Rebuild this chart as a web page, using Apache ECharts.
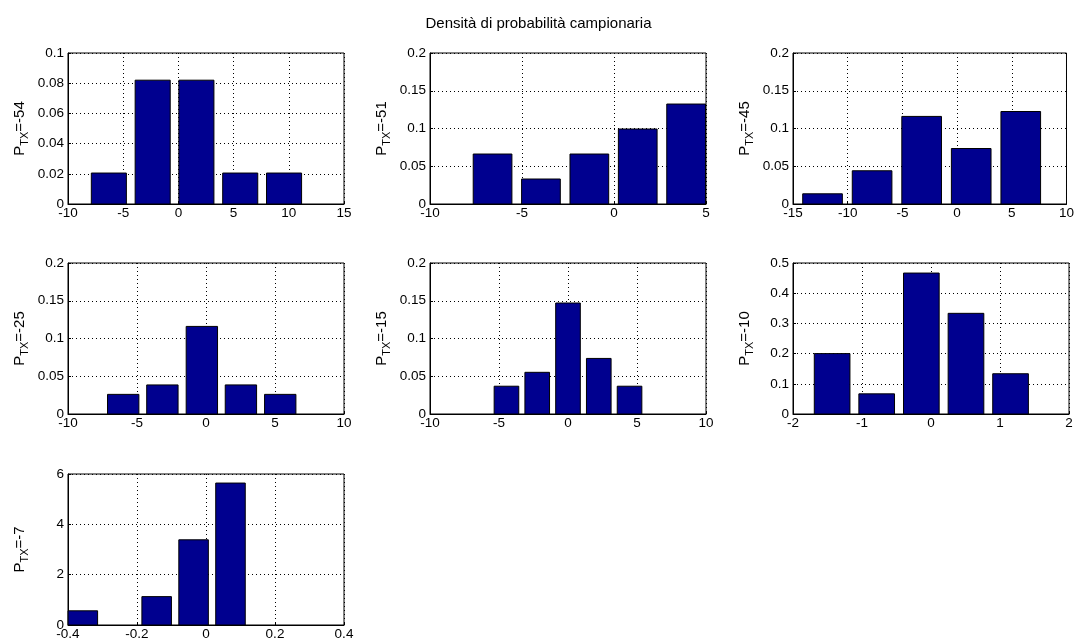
<!DOCTYPE html>
<html lang="it">
<head>
    <meta charset="UTF-8">
    <title>Densità di probabilità campionaria</title>
    <script type="text/javascript" src="https://cdn.jsdelivr.net/npm/echarts@6.0.0/dist/echarts.min.js"></script>
    <style>
        html, body { margin: 0; padding: 0; background: #fff; }
        #myChart { width: 1077px; height: 643px; }
    </style>
</head>
<body>
<div id="myChart"></div>

<script type="text/javascript">
    // etichette dei pannelli (P_TX)
    var ptxLabels = ['-54', '-51', '-45', '-25', '-15', '-10', '-7'];

    // centri dei bin per ogni pannello
    var centers54 = [-6.3, -2.33, 1.63, 5.6, 9.57];
    var centers51 = [-6.6, -3.97, -1.34, 1.29, 3.92];
    var centers45 = [-12.3, -7.77, -3.24, 1.29, 5.82];
    var centers25 = [-6.0, -3.16, -0.3, 2.53, 5.38];
    var centers15 = [-4.46, -2.23, 0, 2.23, 4.46];
    var centers10 = [-1.433, -0.787, -0.14, 0.507, 1.153];
    var centers7 = [-0.357, -0.250, -0.143, -0.036, 0.071];

    // densità campionaria
    var dens54 = [0.0205, 0.082, 0.082, 0.0205, 0.0205];
    var dens51 = [0.0662, 0.0331, 0.0662, 0.0993, 0.1324];
    var dens45 = [0.0135, 0.044, 0.116, 0.0735, 0.1225];
    var dens25 = [0.026, 0.0385, 0.116, 0.0385, 0.026];
    var dens15 = [0.0368, 0.0552, 0.147, 0.0736, 0.0368];
    var dens10 = [0.2, 0.0667, 0.4667, 0.3333, 0.1333];
    var dens7 = [0.564, 0, 1.128, 3.385, 5.64];

    // assi: [min, max, intervallo]
    var xAxes = [[-10, 15, 5], [-10, 5, 5], [-15, 10, 5], [-10, 10, 5], [-10, 10, 5], [-2, 2, 1], [-0.4, 0.4, 0.2]];
    var yAxes = [[0, 0.1, 0.02], [0, 0.2, 0.05], [0, 0.2, 0.05], [0, 0.2, 0.05], [0, 0.2, 0.05], [0, 0.5, 0.1], [0, 6, 2]];

    var allCenters = [centers54, centers51, centers45, centers25, centers15, centers10, centers7];
    var allDens = [dens54, dens51, dens45, dens25, dens15, dens10, dens7];

    var colLeft = [68, 430, 793];
    var rowTop = [53, 263, 474];
    var plotW = 276, plotH = 151;
    var FONT = '"Liberation Sans", Arial, sans-serif';

    var myChart = echarts.init(document.getElementById('myChart'), null, {renderer: 'canvas'});

    var grids = [], xAx = [], yAx = [], series = [];

    for (var i = 0; i < 7; i++) {
        grids.push({
            left: colLeft[i % 3], top: rowTop[Math.floor(i / 3)],
            width: plotW, height: plotH,
            show: true, borderColor: '#000', borderWidth: 1, backgroundColor: '#fff'
        });
        xAx.push({
            type: 'value', gridIndex: i,
            min: xAxes[i][0], max: xAxes[i][1], interval: xAxes[i][2],
            axisLine: {show: true, onZero: false, lineStyle: {color: '#000'}},
            axisTick: {show: true, inside: true, length: 3, lineStyle: {color: '#000'}},
            axisLabel: {color: '#000', fontSize: 13.5, fontFamily: FONT, margin: 2},
            splitLine: {show: true, lineStyle: {color: '#000', type: [1, 3], width: 1}}
        });
        yAx.push({
            type: 'value', gridIndex: i,
            min: yAxes[i][0], max: yAxes[i][1], interval: yAxes[i][2],
            name: '{p|P}{s|TX}{p|=' + ptxLabels[i] + '}',
            nameLocation: 'middle', nameRotate: 90, nameGap: 38,
            nameTextStyle: {
                color: '#000', fontFamily: FONT,
                rich: {
                    p: {fontSize: 15, fontFamily: FONT, color: '#000', verticalAlign: 'top'},
                    s: {fontSize: 11, fontFamily: FONT, color: '#000', verticalAlign: 'top', padding: [7, 0, 0, 0]}
                }
            },
            axisLine: {show: true, onZero: false, lineStyle: {color: '#000'}},
            axisTick: {show: true, inside: true, length: 3, lineStyle: {color: '#000'}},
            axisLabel: {color: '#000', fontSize: 13.5, fontFamily: FONT, margin: 4},
            splitLine: {show: true, lineStyle: {color: '#000', type: [1, 3], width: 1}}
        });

        var c = allCenters[i];
        var binW = 0.8 * (c[1] - c[0]);
        var data = c.map(function (x, k) { return [x, allDens[i][k]]; });

        series.push({
            type: 'custom', xAxisIndex: i, yAxisIndex: i,
            data: data,
            renderItem: (function (w) {
                return function (params, api) {
                    var x = api.value(0), y = api.value(1);
                    if (!y) return;
                    var p0 = api.coord([x - w / 2, y]);
                    var p1 = api.coord([x + w / 2, 0]);
                    var rect = echarts.graphic.clipRectByRect({
                        x: p0[0], y: p0[1], width: p1[0] - p0[0], height: p1[1] - p0[1]
                    }, {
                        x: params.coordSys.x, y: params.coordSys.y,
                        width: params.coordSys.width, height: params.coordSys.height
                    });
                    if (!rect) return;
                    return {
                        type: 'rect', shape: rect,
                        style: {fill: '#00008F', stroke: '#000', lineWidth: 1}
                    };
                };
            })(binW)
        });
    }

    myChart.setOption({
        backgroundColor: '#fff',
        animation: false,
        title: {
            text: 'Densità di probabilità campionaria',
            left: 'center', top: 11,
            textStyle: {fontSize: 15, fontWeight: 'normal', color: '#000', fontFamily: FONT}
        },
        grid: grids,
        xAxis: xAx,
        yAxis: yAx,
        series: series
    });
</script>
</body>
</html>
